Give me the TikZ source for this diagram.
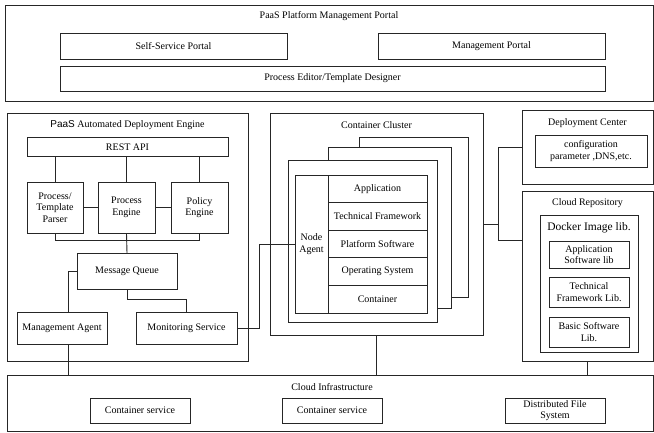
\documentclass[tikz,border=0pt]{standalone}
\usepackage{fontspec}
\setmainfont{Liberation Serif}
\newfontfamily\paasfont{Liberation Sans}
\begin{document}
\begin{tikzpicture}[x=1pt,y=-1pt,
  every node/.style={font=\fontsize{10}{11.5}\selectfont},
  box/.style={draw=black!85,line width=0.9pt,fill=white,inner sep=1pt,align=center},
  frame/.style={draw=black!85,line width=0.9pt,fill=white},
  ttl/.style={inner sep=0pt},
  wire/.style={draw=black!85,line width=0.9pt}]
\useasboundingbox (0,0) rectangle (654,433);

% ---- management portal ----
\node[frame,minimum width=648,minimum height=96] (portal) at (329,53) {};
\node[ttl] (portalT) at (329,16) {PaaS Platform Management Portal};
\node[box,minimum width=227,minimum height=26] (selfp) at (173.5,46) {Self-Service Portal};
\node[box,minimum width=227,minimum height=26] (mgmtp) at (491.5,46) {Management Portal};
\node[box,minimum width=545,minimum height=25] (editor) at (332.5,78.5) {Process Editor/Template Designer};

% ---- deployment engine ----
\node[frame,minimum width=241,minimum height=248] (engine) at (127.5,237) {};
\node[ttl] (engineT) at (127.5,125) {{\paasfont PaaS} Automated Deployment Engine};
\node[box,minimum width=201,minimum height=19] (rest) at (127.5,147) {REST API};
\node[box,minimum width=56,minimum height=51] (parser) at (55,207.5) {Process/\\Template\\Parser};
\node[box,minimum width=57,minimum height=51] (pengine) at (126.5,207.5) {Process\\Engine};
\node[box,minimum width=57,minimum height=51] (policy) at (199.5,207.5) {Policy\\Engine};
\node[box,minimum width=100,minimum height=36] (mq) at (127,271.5) {Message Queue};
\node[box,minimum width=90,minimum height=32] (magent) at (62,328) {Management Agent};
\node[box,minimum width=101,minimum height=32] (mon) at (186.5,328) {Monitoring Service};

\coordinate (bus) at (0,240);
\coordinate (mline) at (68,0);
\coordinate (mqbend) at (127,299);
\coordinate (via) at (259,0);

\draw[wire] (parser |- rest.south) -- (parser.north);
\draw[wire] (pengine |- rest.south) -- (pengine.north);
\draw[wire] (policy |- rest.south) -- (policy.north);
\draw[wire] (parser.east) -- (pengine.west);
\draw[wire] (pengine.east) -- (policy.west);
\draw[wire] (parser.south) -- (parser.south |- bus) -| (policy.south);
\draw[wire] (pengine.south) -- (mq.north);
\draw[wire] (mq.west) -| (mline |- magent.north);
\draw[wire] (mq.south) -- (mqbend) -| (mon.north);

% ---- container cluster ----
\node[frame,minimum width=213,minimum height=222] (cluster) at (376.5,224) {};
\node[ttl] (clusterT) at (376.5,125) {Container Cluster};
\node[frame,minimum width=109,minimum height=160] (card3) at (413.5,217) {};
\node[frame,minimum width=123,minimum height=161] (card2) at (389.5,227.5) {};
\node[frame,minimum width=149,minimum height=162] (card1) at (362.5,241) {};
\node[box,minimum width=33,minimum height=138] (nagent) at (311.5,244) {Node\\Agent};
\node[box,minimum width=99,minimum height=27.6] (app) at (377.5,188.8) {Application};
\node[box,minimum width=99,minimum height=27.6] (tfw) at (377.5,216.4) {Technical Framework};
\node[box,minimum width=99,minimum height=27.6] (psw) at (377.5,244) {Platform Software};
\node[box,minimum width=99,minimum height=27.6] (os) at (377.5,271.6) {Operating System};
\node[box,minimum width=99,minimum height=27.6] (ctr) at (377.5,299.2) {Container};

\draw[wire] (mon.east) -| (via |- nagent.west) -- (nagent.west);

% ---- deployment center / repository ----
\node[frame,minimum width=131,minimum height=74] (dc) at (587.5,147) {};
\node[ttl] (dcT) at (587.5,123) {Deployment Center};
\node[box,minimum width=112,minimum height=32] (conf) at (591,151) {configuration\\parameter ,DNS,etc.};

\node[frame,minimum width=131,minimum height=170] (cr) at (587.5,276) {};
\node[ttl] (crT) at (587.5,203) {Cloud Repository};
\node[frame,minimum width=98,minimum height=137] (docker) at (589,283.5) {};
\node[ttl,font=\fontsize{11.5}{13}\selectfont] (dockerT) at (589,228) {Docker Image lib.};
\node[box,minimum width=80,minimum height=27] (applib) at (589,254.5) {Application\\Software lib};
\node[box,minimum width=80,minimum height=30] (tfwlib) at (589,292) {Technical\\Framework Lib.};
\node[box,minimum width=80,minimum height=30] (baslib) at (589,332) {Basic Software\\Lib.};

\coordinate (hub) at (498,224);
\coordinate (crhook) at (0,240);
\draw[wire] (cluster.east) -- (hub);
\draw[wire] (hub) |- (dc.west);
\draw[wire] (hub) |- (cr.west |- crhook);

% ---- cloud infrastructure ----
\node[frame,minimum width=646,minimum height=56] (infra) at (330,403) {};
\node[ttl] (infraT) at (332,387) {Cloud Infrastructure};
\node[box,minimum width=100,minimum height=25] (cs1) at (140,410.5) {Container service};
\node[box,minimum width=100,minimum height=25] (cs2) at (332,410.5) {Container service};
\node[box,minimum width=100,minimum height=25] (dfs) at (555,410.5) {Distributed File\\System};

\draw[wire] (magent.south -| mline) -- (mline |- infra.north);
\draw[wire] (cluster.south) -- (cluster.south |- infra.north);
\draw[wire] (cr.south) -- (cr.south |- infra.north);
\end{tikzpicture}
\end{document}
